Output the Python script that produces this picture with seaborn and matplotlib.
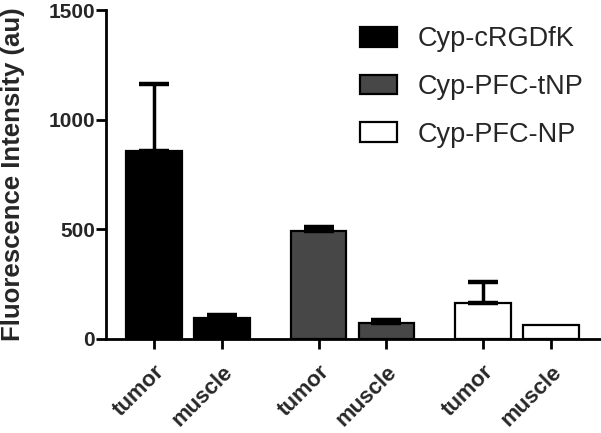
import matplotlib
matplotlib.use("Agg")
import matplotlib.pyplot as plt
import seaborn as sns
import pandas as pd
import numpy as np

groups = ["Cyp-cRGDfK", "Cyp-PFC-tNP", "Cyp-PFC-NP"]
tissues = ["tumor", "muscle"]
means_cRGDfK = [858, 97]
means_tNP = [494, 73]
means_NP = [163, 64]
err_cRGDfK = [304, 12]
err_tNP = [18, 14]
err_NP = [97, 0]
yticks = [0, 500, 1000, 1500]

sns.set_theme(style="ticks")
plt.rcParams["font.family"] = ["Liberation Sans", "DejaVu Sans"]

group_gap = 1.42
means = [means_cRGDfK, means_tNP, means_NP]
errs = [err_cRGDfK, err_tNP, err_NP]
rows = []
for gi, g in enumerate(groups):
    for ti, t in enumerate(tissues):
        rows.append({"group": g, "tissue": t, "pos": gi * (1 + group_gap) + ti,
                     "value": means[gi][ti], "err": errs[gi][ti]})
df = pd.DataFrame(rows)

fig = plt.figure(figsize=(6.01, 4.33), dpi=100)
ax = fig.add_axes([106 / 601, 94 / 433, 495 / 601, 329 / 433])

palette = ["#000000", "#474747", "#ffffff"]
sns.barplot(data=df, x="pos", y="value", hue="group", hue_order=groups,
            palette=palette, native_scale=True, dodge=False, width=0.82,
            edgecolor="black", linewidth=1.6, errorbar=None, ax=ax, zorder=2)

de = df[df["err"] > 0]
ax.errorbar(de["pos"], de["value"], yerr=[np.zeros(len(de)), de["err"]],
            fmt="none", ecolor="black", elinewidth=2.5, capsize=11, capthick=3.2, zorder=3)

ax.set_ylim(0, 1500)
ax.set_xlim(-0.71, df["pos"].max() + 0.74)
ax.set_yticks(yticks)
ax.set_yticklabels([str(v) for v in yticks], fontsize=15, fontweight="bold")
ax.set_xticks(df["pos"])
ax.set_xticklabels(df["tissue"], rotation=45, ha="right", va="top",
                   rotation_mode="anchor", fontsize=16, fontweight="bold")
ax.set_xlabel("")
ax.set_ylabel("Fluorescence Intensity (au)", fontsize=18.5, fontweight="bold")
ax.yaxis.set_label_coords(-0.163, 0.5)

for s in ["top", "right"]:
    ax.spines[s].set_visible(False)
for s in ["left", "bottom"]:
    ax.spines[s].set_linewidth(2)
    ax.spines[s].set_color("black")
ax.tick_params(axis="both", width=2, length=7, color="black")
ax.tick_params(axis="y", pad=1)
ax.tick_params(axis="x", pad=9)

handles, labels = ax.get_legend_handles_labels()
ax.legend(handles, labels, loc="upper left", bbox_to_anchor=(336 / 601, 1 - 2 / 433),
          bbox_transform=fig.transFigure, frameon=False, fontsize=19.5,
          handlelength=1.37, handleheight=0.74, labelspacing=0.8, handletextpad=0.74)

fig.savefig("out.png", dpi=100)
